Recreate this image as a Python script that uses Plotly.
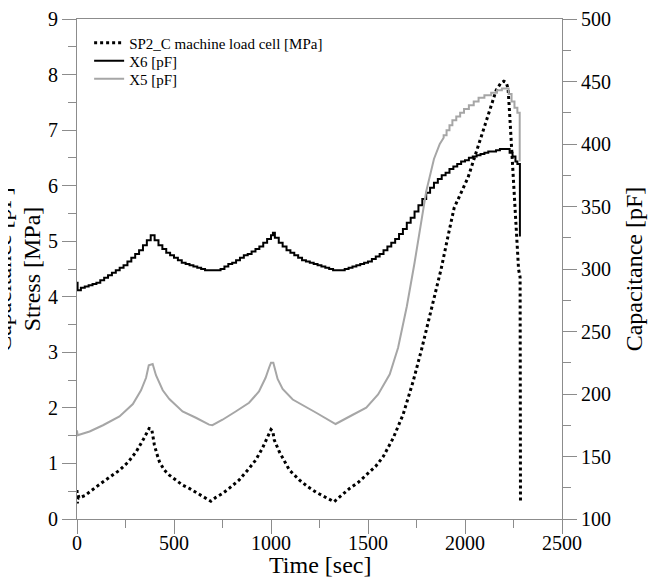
import plotly.graph_objects as go

# SP2_C machine load cell, stress [MPa] against time [sec]
stress_time = [0, 2, 5, 10, 40, 65, 100, 135, 180, 220, 265, 305, 340, 360, 372, 385,
               399, 411, 425, 450, 476, 510, 544, 579, 613, 647, 690, 716, 750, 784, 835,
               887, 921, 955, 981, 1000, 1009, 1017, 1043, 1069, 1095, 1147, 1190, 1233,
               1280, 1325, 1365, 1405, 1450, 1491, 1540, 1578, 1629, 1681, 1733, 1776,
               1800, 1841, 1877, 1913, 1944, 2016, 2068, 2120, 2161, 2185, 2200, 2212,
               2222, 2230, 2240, 2254, 2265, 2276, 2284, 2286]
stress_mpa = [0.52, 0.28, 0.45, 0.38, 0.42, 0.48, 0.58, 0.67, 0.78, 0.88, 1.03, 1.21, 1.42,
              1.55, 1.63, 1.62, 1.33, 1.18, 1.03, 0.88, 0.79, 0.70, 0.61, 0.55, 0.48, 0.42,
              0.32, 0.39, 0.46, 0.55, 0.70, 0.91, 1.06, 1.27, 1.48, 1.61, 1.58, 1.42, 1.21,
              1.03, 0.88, 0.70, 0.58, 0.48, 0.40, 0.31, 0.43, 0.55, 0.66, 0.79, 0.95, 1.12,
              1.45, 1.88, 2.48, 3.05, 3.40, 4.00, 4.50, 5.10, 5.60, 6.15, 6.72, 7.30, 7.72,
              7.85, 7.88, 7.86, 7.75, 7.30, 6.70, 5.80, 5.00, 4.50, 4.35, 0.28]

# X6 sensor capacitance [pF], read on the step grid of the logger
x6_time = [0, 3, 20, 40, 60, 80, 100, 120, 140, 160, 180, 200, 220, 240, 260, 280, 300,
           320, 340, 360, 380, 400, 420, 440, 460, 480, 500, 520, 540, 560, 580, 600, 620,
           640, 660, 680, 700, 720, 740, 760, 780, 800, 820, 840, 860, 880, 900, 920, 940,
           960, 980, 1000, 1010, 1020, 1040, 1060, 1080, 1100, 1120, 1140, 1160, 1180, 1200,
           1220, 1240, 1260, 1280, 1300, 1320, 1340, 1360, 1380, 1400, 1420, 1440, 1460,
           1480, 1500, 1520, 1540, 1560, 1580, 1600, 1620, 1640, 1660, 1680, 1700, 1720,
           1740, 1760, 1780, 1800, 1820, 1840, 1860, 1880, 1900, 1920, 1940, 1960, 1980,
           2000, 2020, 2040, 2060, 2080, 2100, 2120, 2140, 2160, 2180, 2200, 2220, 2230,
           2245, 2260, 2270, 2282, 2283]
x6_pf = [289, 283, 285, 286, 287, 288, 289, 291, 293, 295, 297, 299, 301, 303, 306, 309,
         312, 315, 319, 323, 327, 323, 319, 316, 313, 311, 309, 307, 305, 304, 303, 302,
         301, 300, 299, 299, 299, 299, 300, 302, 304, 305, 307, 309, 311, 312, 314, 316,
         318, 321, 324, 327, 329, 325, 321, 318, 315, 313, 311, 309, 307, 306, 305, 304,
         303, 302, 301, 300, 299, 299, 299, 300, 301, 302, 303, 304, 305, 306, 308, 310,
         312, 315, 318, 321, 324, 328, 332, 337, 341, 346, 351, 356, 361, 365, 369, 372,
         375, 377, 380, 382, 384, 386, 387, 389, 390, 391, 392, 393, 394, 394, 395, 396,
         396, 396, 393, 390, 386, 384, 384, 326]

# X5 sensor capacitance [pF]; the top of the curve shows the logger steps
x5_time = [0, 3, 65, 134, 219, 288, 330, 356, 370, 390, 407, 442, 476, 544, 613, 681, 698,
           750, 818, 887, 938, 972, 990, 1000, 1012, 1034, 1060, 1112, 1233, 1319, 1333,
           1405, 1491, 1552, 1612, 1655, 1700, 1740, 1770, 1800, 1840, 1870, 1890,
           1890, 1905, 1905, 1920, 1920, 1935, 1935, 1955, 1955, 1975, 1975, 1995, 1995,
           2020, 2020, 2045, 2045, 2070, 2070, 2100, 2100, 2135, 2135, 2165, 2165, 2190,
           2190, 2225, 2225, 2240, 2240, 2255, 2255, 2270, 2270, 2282, 2282]
x5_pf = [171, 167, 170, 175, 182, 192, 203, 213, 223, 224, 215, 203, 196, 186, 181,
         175.5, 175, 179.4, 186, 193, 202, 213, 221, 225, 225, 212, 204, 195.6, 185, 177,
         176, 182, 189, 199.6, 215.8, 237, 270, 305, 335, 362, 388, 400, 405,
         407, 407, 411, 411, 415, 415, 419, 419, 422, 422, 425, 425, 428,
         428, 431, 431, 434, 434, 437, 437, 439, 439, 441, 441, 443, 443,
         444.5, 444.5, 440, 440, 434, 434, 429, 429, 425, 425, 386]

x_ticks = [0, 500, 1000, 1500, 2000, 2500]
stress_ticks = [0, 1, 2, 3, 4, 5, 6, 7, 8, 9]
cap_ticks = [100, 150, 200, 250, 300, 350, 400, 450, 500]

FONT = 'Liberation Serif, Times New Roman, serif'
AXIS_GREY = '#8c8c8c'

fig = go.Figure()
fig.add_trace(go.Scatter(
    x=stress_time, y=stress_mpa, mode='lines',
    name='SP2_C machine load cell [MPa]', legend='legend',
    line=dict(color='black', width=3, dash='dot'),
))
fig.add_trace(go.Scatter(
    x=x6_time, y=x6_pf, mode='lines', name='X6 [pF]', yaxis='y2', legend='legend2',
    line=dict(color='black', width=2, shape='hv'),
))
fig.add_trace(go.Scatter(
    x=x5_time, y=x5_pf, mode='lines', name='X5 [pF]', yaxis='y2', legend='legend3',
    line=dict(color='#a6a6a6', width=2),
))

axis_common = dict(
    showgrid=False, zeroline=False, showline=True, linecolor=AXIS_GREY, linewidth=1,
    ticks='outside', ticklen=14, tickwidth=1, tickcolor=AXIS_GREY, automargin=False,
    ticklabeloverflow='allow',
    tickfont=dict(family=FONT, size=20, color='black'),
)


def legend_row(y):
    # one legend box per entry, so the rows can sit as tight as in the original
    return dict(
        x=0.025, y=y, xanchor='left', yanchor='top',
        bgcolor='rgba(0,0,0,0)', borderwidth=0,
        font=dict(family=FONT, size=15, color='black'),
        itemwidth=30,
    )


fig.update_layout(
    width=659, height=578,
    margin=dict(l=69, r=105, t=11, b=67),
    plot_bgcolor='white', paper_bgcolor='white',
    font=dict(family=FONT, color='black'),
    showlegend=True,
    legend=legend_row(0.985),
    legend2=legend_row(0.949),
    legend3=legend_row(0.913),
    xaxis=dict(
        range=[0, 2500], tickvals=x_ticks, mirror=True, ticklabelstandoff=-8,
        minor=dict(dtick=250, ticklen=8, tickcolor=AXIS_GREY, ticks='outside'),
        **axis_common,
    ),
    yaxis=dict(
        range=[0, 9], tickvals=stress_ticks,
        title=dict(text='Stress [MPa]', font=dict(family=FONT, size=24), standoff=0),
        minor=dict(dtick=0.5, ticklen=8, tickcolor=AXIS_GREY, ticks='outside'),
        **axis_common,
    ),
    yaxis2=dict(
        range=[100, 500], tickvals=cap_ticks, overlaying='y', side='right',
        title=dict(text='Capacitance [pF]', font=dict(family=FONT, size=24), standoff=15),
        minor=dict(dtick=25, ticklen=8, tickcolor=AXIS_GREY, ticks='outside'),
        **axis_common,
    ),
)

# x title placed by hand so it sits as close to the tick labels as in the original
fig.add_annotation(
    text='Time [sec]', showarrow=False,
    xref='paper', yref='paper', x=0.5, y=0, xanchor='center', yanchor='middle',
    yshift=-46, font=dict(family=FONT, size=24, color='black'),
)

# the left capacitance title of the neighbouring panel is cut by the page edge
fig.add_annotation(
    text='Capacitance [pF]', textangle=-90, showarrow=False,
    xref='paper', yref='paper', x=-0.153, y=0.5, xanchor='center', yanchor='middle',
    font=dict(family=FONT, size=24, color='black'),
)

fig.write_html('out.html')
